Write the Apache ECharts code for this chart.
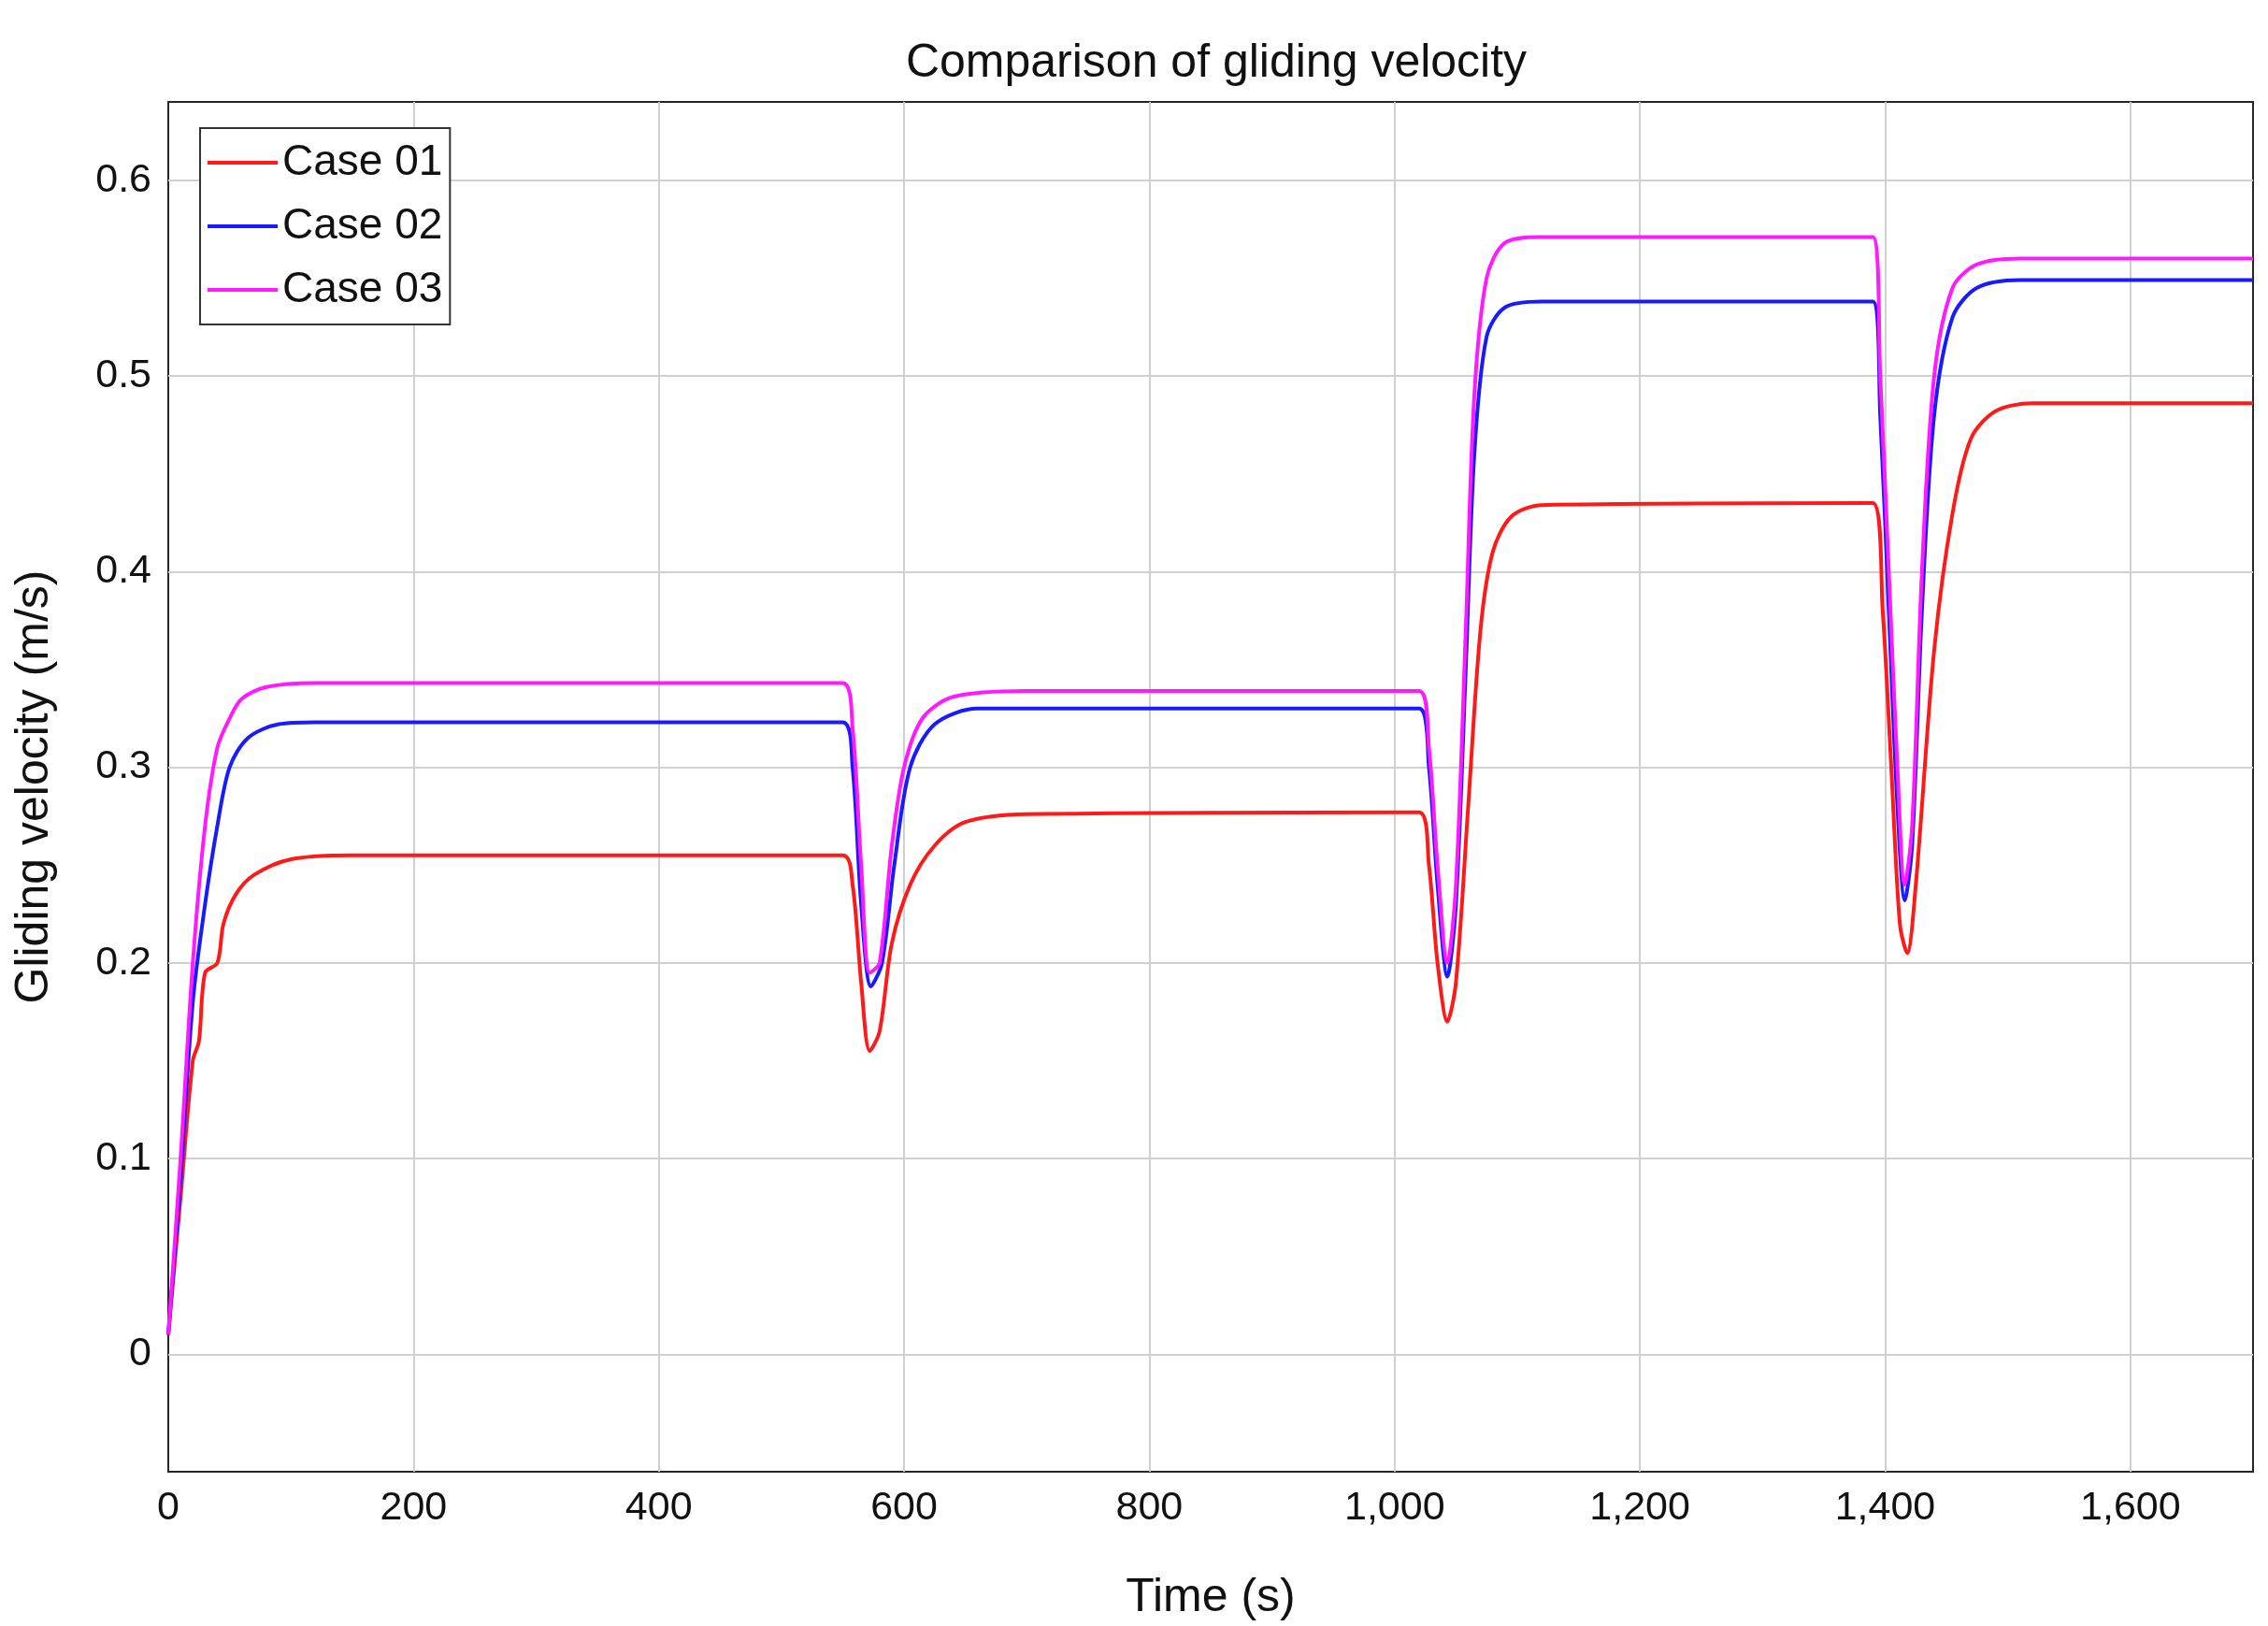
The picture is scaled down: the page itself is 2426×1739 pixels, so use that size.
<!DOCTYPE html>
<html>
<head>
<meta charset="utf-8">
<script src="https://cdn.jsdelivr.net/npm/echarts@6/dist/echarts.min.js"></script>
<style>html,body{margin:0;padding:0;background:#fff}#chart{width:2426px;height:1739px}</style>
</head>
<body>
<div id="chart"></div>
<script>
// gliding velocity
var case01 = [[0,0.01],[10,0.08],[20,0.15],[25,0.16],[30,0.195],[40,0.2],[45,0.22],[55,0.235],[70,0.245],[100,0.253],[150,0.255],[550,0.255],[558,0.24],[565,0.19],[572,0.155],[580,0.165],[590,0.21],[605,0.24],[625,0.26],[650,0.272],[700,0.276],[1020,0.277],[1028,0.25],[1035,0.2],[1043,0.17],[1050,0.19],[1060,0.28],[1070,0.37],[1080,0.41],[1095,0.428],[1120,0.434],[1390,0.435],[1398,0.38],[1405,0.3],[1412,0.22],[1418,0.205],[1425,0.24],[1440,0.36],[1455,0.43],[1470,0.468],[1490,0.482],[1520,0.486],[1700,0.486]];
var case02 = [[0,0.01],[10,0.09],[20,0.18],[30,0.23],[40,0.27],[50,0.3],[65,0.315],[90,0.322],[120,0.323],[550,0.323],[558,0.3],[565,0.23],[573,0.188],[582,0.2],[592,0.25],[605,0.3],[625,0.322],[660,0.33],[1020,0.33],[1028,0.3],[1035,0.24],[1043,0.193],[1050,0.23],[1058,0.35],[1065,0.46],[1075,0.52],[1090,0.535],[1120,0.538],[1390,0.538],[1396,0.48],[1403,0.38],[1410,0.28],[1416,0.232],[1422,0.26],[1430,0.38],[1440,0.48],[1455,0.53],[1475,0.545],[1510,0.549],[1700,0.549]];
var case03 = [[0,0.01],[10,0.1],[20,0.2],[30,0.27],[40,0.31],[50,0.325],[60,0.335],[80,0.341],[120,0.343],[550,0.343],[558,0.32],[565,0.25],[572,0.195],[580,0.2],[590,0.26],[600,0.3],[615,0.325],[640,0.336],[700,0.339],[1020,0.339],[1028,0.31],[1035,0.25],[1043,0.2],[1050,0.24],[1058,0.37],[1065,0.49],[1075,0.55],[1090,0.568],[1120,0.571],[1390,0.571],[1396,0.5],[1403,0.4],[1410,0.3],[1416,0.24],[1422,0.27],[1430,0.4],[1440,0.5],[1455,0.545],[1475,0.557],[1510,0.56],[1700,0.56]];
var yTicks = [0, 0.1, 0.2, 0.3, 0.4, 0.5, 0.6];
var xTicks = [200, 400, 600, 800, 1000, 1200, 1400, 1600];

var chart = echarts.init(document.getElementById('chart'));
var font = 'Liberation Sans, Arial, sans-serif';
var gridStyle = {color: '#d0d0d0', width: 2, type: 'solid'};

var mk = function(name, color, data, grid){
    var s = {name: name, type: 'line', data: data, showSymbol: false, smooth: 0.3,
        lineStyle: {color: color, width: 4}, itemStyle: {color: color}, z: 3};
    if (grid) {
        var lines = [];
        $each = null;
        yTicks.forEach(function(v){ lines.push({yAxis: v}); });
        xTicks.forEach(function(v){ lines.push({xAxis: v}); });
        s.markLine = {silent: true, symbol: 'none', label: {show: false}, lineStyle: gridStyle, data: lines, z: 1};
    }
    return s;
};

var option = {
    backgroundColor: '#fff',
    title: {text: 'Comparison of gliding velocity', left: 1296, textAlign: 'center', top: 38,
        textStyle: {fontFamily: font, fontSize: 50, fontWeight: 'normal', color: '#111'}},
    legend: {orient: 'vertical', left: 214, top: 137, itemWidth: 75, itemHeight: 4, itemGap: 22,
        padding: [14, 8, 14, 8], borderColor: '#333', borderWidth: 2, backgroundColor: '#fff',
        icon: 'rect', textStyle: {fontFamily: font, fontSize: 46, color: '#111'},
        data: ['Case 01', 'Case 02', 'Case 03']},
    grid: {left: 180, right: 16, top: 109, bottom: 164, show: true, borderColor: '#262626', borderWidth: 2},
    xAxis: {type: 'value', min: 0, max: 1700, interval: 200,
        name: 'Time (s)', nameLocation: 'middle', nameGap: 110,
        nameTextStyle: {fontFamily: font, fontSize: 50, color: '#111'},
        axisLine: {show: false}, axisTick: {show: false}, splitLine: {show: false},
        axisLabel: {fontFamily: font, fontSize: 43, color: '#111', margin: 18, showMaxLabel: false}},
    yAxis: {type: 'value', min: -0.06, max: 0.64, interval: 0.02,
        name: 'Gliding velocity (m/s)', nameLocation: 'middle', nameGap: 118,
        nameTextStyle: {fontFamily: font, fontSize: 50, color: '#111'},
        axisLine: {show: false}, axisTick: {show: false}, splitLine: {show: false},
        axisLabel: {fontFamily: font, fontSize: 43, color: '#111', margin: 18,
            formatter: function(v){
                var t = Math.round(v * 10);
                if (Math.abs(v * 10 - t) > 1e-6 || t < 0 || t > 6) return '';
                return t === 0 ? '0' : (t / 10).toFixed(1);
            }}},
    series: [
        mk('Case 01', '#ff1a1a', case01, true),
        mk('Case 02', '#1a1aff', case02, false),
        mk('Case 03', '#ff1aff', case03, false)
    ]
};
chart.setOption(option);
</script>
</body>
</html>
